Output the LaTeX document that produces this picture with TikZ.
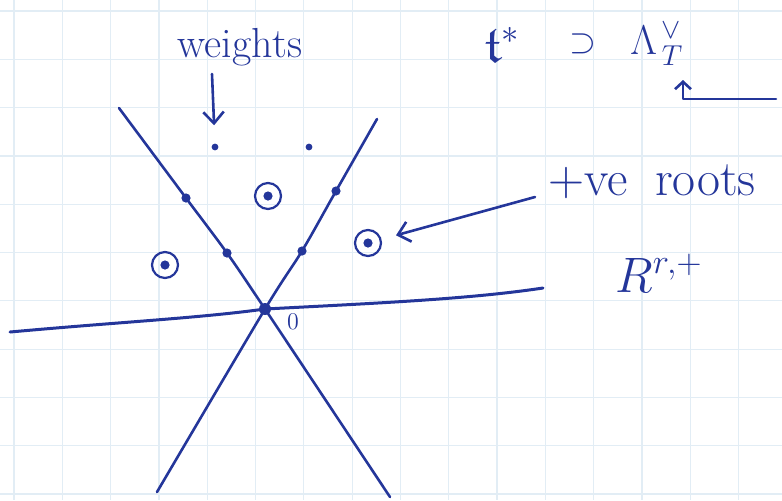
\documentclass[tikz,border=0pt]{standalone}
\usepackage{amsmath,amssymb}
\usepackage{tikz}
\usetikzlibrary{arrows.meta}
\definecolor{Ink}{HTML}{24369A}
\definecolor{PaleGrid}{HTML}{E2EDF5}

\begin{document}
\begin{tikzpicture}[x=0.5pt,y=-0.5pt,
  pen/.style={draw=Ink,line width=1.3pt,line cap=round,line join=round},
  wt/.style={circle,fill=Ink,inner sep=0pt,minimum size=3.4pt},
  pt/.style={circle,fill=Ink,inner sep=0pt,minimum size=4.6pt},
  root/.style={circle,draw=Ink,line width=1.1pt,inner sep=0pt,minimum size=13pt},
  arr/.style={pen,-{Straight Barb[length=2mm,width=3.6mm]}},
  hand/.style={text=Ink,inner sep=0pt}
]
\useasboundingbox (0,0) rectangle (782,500);
\foreach \k in {0,...,15} \draw[PaleGrid,line width=0.6pt] (14+48.3*\k,0) -- (14+48.3*\k,500);
\foreach \k in {0,...,10} \draw[PaleGrid,line width=0.6pt] (0,11+48.3*\k) -- (782,11+48.3*\k);

\node[pt,minimum size=6pt] (o) at (265,309) {};
\node[hand,font=\fontsize{13}{15}\selectfont] (zero) at (293,322) {$0$};
\foreach \n/\p in {d11/{186,198},d12/{227,253},d21/{336,191},d22/{302,251}}
  \node[pt] (\n) at (\p) {};
\foreach \n/\p in {w1/{215,147},w2/{309,147}}
  \node[wt] (\n) at (\p) {};
\foreach \i/\p in {1/{268,196},2/{368,243},3/{165,265}}{
  \node[root] (r\i) at (\p) {};
  \fill[Ink] (r\i.center) circle (2.3pt);
}

\coordinate (a1) at (119,108); \coordinate (b1) at (390,497);
\coordinate (a2) at (377,119); \coordinate (b2) at (157,492);
\coordinate (xl) at (10,332); \coordinate (xr) at (543,288);
\draw[pen] plot[smooth,tension=0.5] coordinates {(a1) (d11.center) (d12.center) (o.center) (b1)};
\draw[pen] plot[smooth,tension=0.5] coordinates {(a2) (d21.center) (d22.center) (o.center) (b2)};
\draw[pen,line width=1.5pt] (xl) .. controls (120,322) and (200,318) .. (o.center) .. controls (380,303) and (470,299) .. (xr);

\node[hand,font=\fontsize{21}{25}\selectfont,anchor=base] (wlab) at (240,57) {weights};
\coordinate (wa) at (212,74);
\draw[arr,shorten >=9pt] (wa) -- (w1);

\node[hand,font=\fontsize{25}{29}\selectfont,anchor=base west] (roots) at (548,195) {+ve\hspace{0.55em}roots};
\coordinate (ra) at (535,197);
\draw[arr,shorten >=7.5pt] (ra) -- (r2);

\node[hand,font=\fontsize{26}{30}\selectfont,anchor=base west] (tstar) at (484,62) {$\mathfrak{t}^*$};
\node[hand,font=\fontsize{17}{20}\selectfont] (incl) at (583,44) {$\supset$};
\node[hand,font=\fontsize{22}{26}\selectfont,anchor=base west] (lam) at (630,54) {$\Lambda^{\,\vee}_{\,T}$};
\coordinate (hk) at (776,99); \coordinate (ht) at (683,80);
\draw[pen,-{Straight Barb[length=1.3mm,width=2.8mm]}] (hk) -| (ht);

\node[hand,font=\fontsize{23}{27}\selectfont,anchor=base west] (rplus) at (615,292) {$R^{r,+}$};
\end{tikzpicture}
\end{document}
